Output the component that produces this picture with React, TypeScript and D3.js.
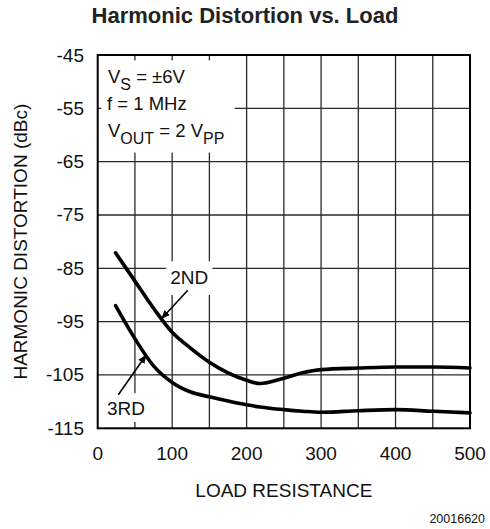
import * as d3 from "d3"

// load resistance (ohms) and distortion (dBc)
const loadX = [24, 50, 75, 100, 125, 150, 175, 200, 218, 250, 275, 300, 350, 400, 450, 500]
const second = [-82.1, -87.4, -92.5, -97.0, -100.0, -102.6, -104.6, -106.0, -106.6, -105.6, -104.6, -104.0, -103.7, -103.5, -103.5, -103.7]
const third = [-92.0, -98.2, -103.3, -106.4, -108.2, -109.1, -109.9, -110.6, -111.0, -111.5, -111.8, -112.0, -111.7, -111.5, -111.8, -112.1]

const xTicks = [0, 100, 200, 300, 400, 500]
const yTicks = [-45, -55, -65, -75, -85, -95, -105, -115]
const xGrid = [50, 100, 150, 200, 250, 300, 350, 400, 450]
const yGrid = [-55, -65, -75, -85, -95, -105]

const W = 490
const H = 529
const FONT = "'Liberation Sans', Arial, Helvetica, sans-serif"
const FS = 19

export default function App() {
  const x = d3.scaleLinear().domain([0, 500]).range([97.7, 470])
  const y = d3.scaleLinear().domain([-115, -45]).range([428.3, 55])

  const line = d3
    .line<number>()
    .x((_, i) => x(loadX[i]))
    .y((d) => y(d))
    .curve(d3.curveMonotoneX)

  const gridColor = "#2a2a2a"

  return (
    <svg
      width={W}
      height={H}
      style={{ position: "absolute", left: 0, top: 0, background: "#fff" }}
      fontFamily={FONT}
    >
      <defs>
        <marker id="ah" viewBox="0 0 10 10" refX="9" refY="5" markerWidth="9" markerHeight="9" orient="auto" markerUnits="userSpaceOnUse">
          <path d="M0,1 L10,5 L0,9 Z" fill="#000" />
        </marker>
      </defs>

      <text x={W / 2} y={23} textAnchor="middle" fontWeight="bold" fontSize={22} fill="#222">
        Harmonic Distortion vs. Load
      </text>

      {/* grid */}
      {xGrid.map((v) => (
        <line key={"gx" + v} x1={x(v)} x2={x(v)} y1={y(-45)} y2={y(-115)} stroke={gridColor} strokeWidth={1.3} />
      ))}
      {yGrid.map((v) => (
        <line key={"gy" + v} x1={x(0)} x2={x(500)} y1={y(v)} y2={y(v)} stroke={gridColor} strokeWidth={1.3} />
      ))}

      {/* white patches behind the labels */}
      <rect x={x(5)} y={y(-46)} width={x(184) - x(5)} height={y(-63.3) - y(-46)} fill="#fff" />
      <rect x={x(92)} y={y(-83.7)} width={x(154) - x(92)} height={y(-90) - y(-83.7)} fill="#fff" />
      <rect x={x(3)} y={y(-108.4)} width={x(70) - x(3)} height={y(-113.8) - y(-108.4)} fill="#fff" />

      {/* frame */}
      <rect x={x(0)} y={y(-45)} width={x(500) - x(0)} height={y(-115) - y(-45)} fill="none" stroke="#000" strokeWidth={2} />

      {/* curves */}
      <path d={line(second) ?? ""} fill="none" stroke="#000" strokeWidth={3.6} strokeLinecap="round" />
      <path d={line(third) ?? ""} fill="none" stroke="#000" strokeWidth={3.6} strokeLinecap="round" />

      {/* y axis */}
      {yTicks.map((v) => (
        <text key={"yt" + v} x={84} y={y(v)} textAnchor="end" dominantBaseline="central" fontSize={FS} fill="#111">
          {v}
        </text>
      ))}
      <text
        transform={`translate(20, ${(y(-45) + y(-115)) / 2}) rotate(-90)`}
        textAnchor="middle"
        dominantBaseline="central"
        fontSize={FS}
        fill="#111"
      >
        HARMONIC DISTORTION (dBc)
      </text>

      {/* x axis */}
      {xTicks.map((v) => (
        <text key={"xt" + v} x={x(v)} y={453} textAnchor="middle" dominantBaseline="central" fontSize={FS} fill="#111">
          {v}
        </text>
      ))}
      <text x={(x(0) + x(500)) / 2} y={490} textAnchor="middle" dominantBaseline="central" fontSize={FS} fill="#111">
        LOAD RESISTANCE
      </text>

      <text x={485} y={523} textAnchor="end" fontSize={12.5} fill="#111">
        20016620
      </text>

      {/* conditions box */}
      <g fontSize={18.5} fill="#111">
        <text x={108} y={83}>
          V<tspan dy={7} fontSize={16}>S</tspan>
          <tspan dy={-7}> = ±6V</tspan>
        </text>
        <text x={107} y={110}>f = 1 MHz</text>
        <text x={108} y={137}>
          V<tspan dy={7} fontSize={16}>OUT</tspan>
          <tspan dy={-7}> = 2 V</tspan>
          <tspan dy={7} fontSize={16}>PP</tspan>
        </text>
      </g>

      {/* series labels */}
      <text x={x(123)} y={y(-86.8)} textAnchor="middle" dominantBaseline="central" fontSize={FS} fill="#111">
        2ND
      </text>
      <line x1={x(121)} y1={y(-89.1)} x2={x(86)} y2={y(-94.4)} stroke="#000" strokeWidth={1.6} markerEnd="url(#ah)" />
      <text x={x(38)} y={y(-111.2)} textAnchor="middle" dominantBaseline="central" fontSize={FS} fill="#111">
        3RD
      </text>
      <line x1={x(27.7)} y1={y(-108.7)} x2={x(64.9)} y2={y(-101.3)} stroke="#000" strokeWidth={1.6} markerEnd="url(#ah)" />
    </svg>
  )
}
